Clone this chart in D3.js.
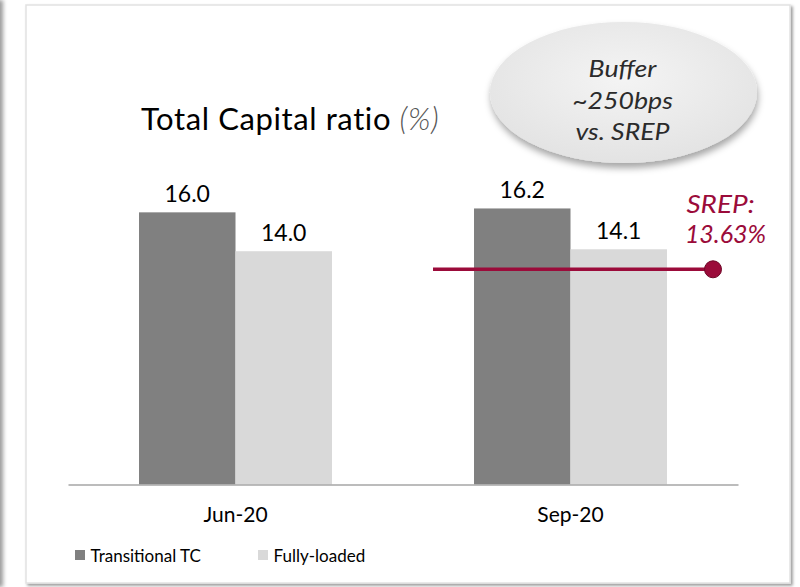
<!DOCTYPE html>
<html>
<head>
<meta charset="utf-8">
<script src="https://cdn.jsdelivr.net/npm/d3@7/dist/d3.min.js"></script>
<style>
  body { margin: 0; background: #fff; }
  svg { display: block; font-family: Lato, "Open Sans", sans-serif; }
</style>
</head>
<body>
<div id="graph"></div>
<script>
// data
var categories = ["Jun-20", "Sep-20"];
var series = ["Transitional TC", "Fully-loaded"];
var transitional = [16.0, 16.2];
var fullyLoaded = [14.0, 14.1];
var seriesColors = ["#808080", "#d9d9d9"];
var srepValue = 13.63;      // label value
var srepDrawnAt = 13.07;    // where the line sits in the picture (not to scale)
var bufferText = ["Buffer", "~250bps", "vs. SREP"];

var W = 800, H = 587;
var svg = d3.select("#graph").append("svg").attr("width", W).attr("height", H);

var defs = svg.append("defs");
var sh = defs.append("filter").attr("id", "shadow")
    .attr("x", "-20%").attr("y", "-20%").attr("width", "140%").attr("height", "150%");
sh.append("feDropShadow").attr("dx", 1).attr("dy", 5).attr("stdDeviation", 3.5)
    .attr("flood-color", "#000").attr("flood-opacity", 0.35);
var psh = defs.append("filter").attr("id", "pshadow")
    .attr("x", "-5%").attr("y", "-5%").attr("width", "110%").attr("height", "110%");
psh.append("feDropShadow").attr("dx", 2).attr("dy", 2).attr("stdDeviation", 1.5)
    .attr("flood-color", "#000").attr("flood-opacity", 0.4);
var grad = defs.append("radialGradient").attr("id", "ell").attr("cx", "50%").attr("cy", "40%").attr("r", "60%");
grad.append("stop").attr("offset", "0%").attr("stop-color", "#f4f4f4");
grad.append("stop").attr("offset", "100%").attr("stop-color", "#e3e3e3");

// left edge shadow strip
svg.append("rect").attr("x", -6).attr("y", 0).attr("width", 9).attr("height", H)
    .attr("fill", "#9a9a9a").style("filter", "blur(2px)");

// panel
svg.append("rect").attr("x", 26).attr("y", 5).attr("width", 764).attr("height", 578)
    .attr("fill", "#fff").attr("stroke", "#e2e2e2").attr("stroke-width", 1.5)
    .attr("filter", "url(#pshadow)");

var baseY = 484.5;
var x0 = d3.scaleBand().domain(categories).range([68, 738]).padding(0);
var x1 = d3.scaleBand().domain(series).range([0, x0.bandwidth()]).paddingInner(0).paddingOuter(0.736);
var y = d3.scaleLinear().domain([2, 17]).range([baseY, baseY - 15 * 19.44]);

var rows = categories.map(function(c, i) {
  return { cat: c, vals: [transitional[i], fullyLoaded[i]] };
});

var groups = svg.selectAll("g.grp").data(rows).enter().append("g")
    .attr("class", "grp")
    .attr("transform", function(d) { return "translate(" + x0(d.cat) + ",0)"; });

groups.selectAll("rect").data(function(d) {
    return d.vals.map(function(v, j) { return { s: series[j], v: v, j: j }; });
  }).enter().append("rect")
    .attr("x", function(d) { return x1(d.s); })
    .attr("y", function(d) { return y(d.v); })
    .attr("width", x1.bandwidth())
    .attr("height", function(d) { return baseY - y(d.v); })
    .attr("fill", function(d) { return seriesColors[d.j]; });

groups.selectAll("text").data(function(d) {
    return d.vals.map(function(v, j) { return { s: series[j], v: v }; });
  }).enter().append("text")
    .attr("x", function(d) { return x1(d.s) + x1.bandwidth() / 2; })
    .attr("y", function(d) { return y(d.v) - 10.5; })
    .attr("text-anchor", "middle")
    .attr("font-size", 23)
    .attr("fill", "#000")
    .text(function(d) { return d.v.toFixed(1); });

// x axis
var gX = svg.append("g").attr("transform", "translate(0," + baseY + ")")
    .call(d3.axisBottom(x0).tickSize(0).tickPadding(23).tickSizeOuter(0));
gX.select(".domain").attr("stroke", "#a6a6a6").attr("stroke-width", 1.5);
gX.selectAll("text").attr("font-size", 21).attr("fill", "#000")
    .attr("font-family", "Lato, sans-serif");

// title
var title = svg.append("text").attr("x", 141).attr("y", 129.5).attr("font-size", 31)
    .attr("letter-spacing", 0.6).attr("fill", "#000");
title.append("tspan").text("Total Capital ratio ");
title.append("tspan").attr("font-style", "italic").attr("font-weight", 300).attr("fill", "#555").text("(%)");

// horizontally widened italic label (the reference text is wider than Lato)
function wideText(parent, cx, by, sx, size, color, txt) {
  parent.append("g").attr("transform", "translate(" + cx + "," + by + ") scale(" + sx + ",1)")
    .append("text").attr("text-anchor", "middle").attr("font-style", "italic")
    .attr("font-size", size).attr("fill", color).text(txt);
}

// SREP line
var srepY = y(srepDrawnAt);
var srepX0 = x0("Sep-20") + 30, srepX1 = x0("Sep-20") + 310;
svg.append("line").attr("x1", srepX0).attr("x2", srepX1).attr("y1", srepY).attr("y2", srepY)
    .attr("stroke", "#9b0b3a").attr("stroke-width", 3.5);
svg.append("circle").attr("cx", srepX1).attr("cy", srepY).attr("r", 8.5)
    .attr("fill", "#9b0b3a").attr("stroke", "#6f0828").attr("stroke-width", 1);
wideText(svg, 720.5, 213, 1.14, 24.5, "#9b0b3a", "SREP:");
wideText(svg, 725.5, 243, 1.02, 24.5, "#9b0b3a", srepValue.toFixed(2) + "%");

// buffer bubble
svg.append("ellipse").attr("cx", 623.5).attr("cy", 92.5).attr("rx", 133.5).attr("ry", 70.5)
    .attr("fill", "url(#ell)").attr("filter", "url(#shadow)");
bufferText.forEach(function(t, i) {
  wideText(svg, 622.5, 77 + i * 31.5, 1.16, 23, "#2b2b2b", t);
});

// legend
var leg = svg.selectAll("g.leg").data(series).enter().append("g")
    .attr("transform", function(d, i) { return "translate(" + (75 + i * 183) + ",550)"; });
leg.append("rect").attr("width", 10).attr("height", 10)
    .attr("fill", function(d, i) { return seriesColors[i]; });
leg.append("text").attr("x", 15.5).attr("y", 11.5).attr("font-size", 17).attr("fill", "#000")
    .text(function(d) { return d; });
</script>
</body>
</html>
